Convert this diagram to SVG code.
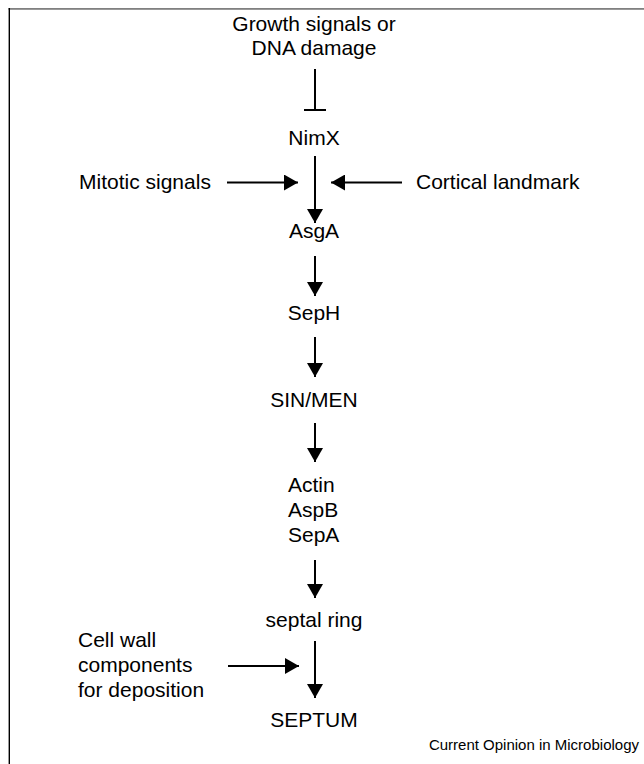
<svg xmlns="http://www.w3.org/2000/svg" width="644" height="764" viewBox="0 0 644 764">
<defs>
<style>
text{font-family:"Liberation Sans",Arial,sans-serif;font-size:21px;fill:#000}
.c{text-anchor:middle}
.ln{stroke:#000;stroke-width:2;fill:none}
.foot{font-size:15px;text-anchor:end}
</style>
<marker id="ah" viewBox="0 0 14 16" refX="14" refY="8" markerWidth="14" markerHeight="16" markerUnits="userSpaceOnUse" orient="auto">
<path d="M0,0 L14,8 L0,16 Z" fill="#000"/>
</marker>
</defs>
<rect width="644" height="764" fill="#fff"/>
<g id="frame">
<rect x="8.5" y="8" width="635.5" height="1.8" fill="#808080"/>
<rect x="8.6" y="8" width="1.4" height="756" fill="#000"/>
</g>
<g id="growth"><text class="c" x="314" y="31">Growth signals or</text><text class="c" x="314" y="55">DNA damage</text></g>
<g id="nimx"><text class="c" x="314" y="145">NimX</text></g>
<g id="mitotic"><text x="79" y="189">Mitotic signals</text></g>
<g id="cortical"><text x="416" y="189">Cortical landmark</text></g>
<g id="asga"><text class="c" x="314" y="238">AsgA</text></g>
<g id="seph"><text class="c" x="314" y="320">SepH</text></g>
<g id="sinmen"><text class="c" x="314" y="407">SIN/MEN</text></g>
<g id="actin"><text x="288" y="492">Actin</text><text x="288" y="517">AspB</text><text x="288" y="542">SepA</text></g>
<g id="septalring"><text class="c" x="314" y="627">septal ring</text></g>
<g id="cellwall"><text x="78" y="647">Cell wall</text><text x="78" y="672">components</text><text x="78" y="697">for deposition</text></g>
<g id="septum"><text class="c" x="314" y="727">SEPTUM</text></g>
<g id="credit"><text class="foot" x="639" y="750">Current Opinion in Microbiology</text></g>
<g id="connectors">
<path class="ln" d="M315,69 V110 M304,110 H326"/>
<path class="ln" d="M315,156 V223" marker-end="url(#ah)"/>
<path class="ln" d="M227,182.5 H298" marker-end="url(#ah)"/>
<path class="ln" d="M402,182.5 H331" marker-end="url(#ah)"/>
<path class="ln" d="M315,256 V296" marker-end="url(#ah)"/>
<path class="ln" d="M315,337 V377" marker-end="url(#ah)"/>
<path class="ln" d="M315,423 V462" marker-end="url(#ah)"/>
<path class="ln" d="M315,560 V598" marker-end="url(#ah)"/>
<path class="ln" d="M315,641 V698" marker-end="url(#ah)"/>
<path class="ln" d="M228,666 H299" marker-end="url(#ah)"/>
</g>
</svg>
